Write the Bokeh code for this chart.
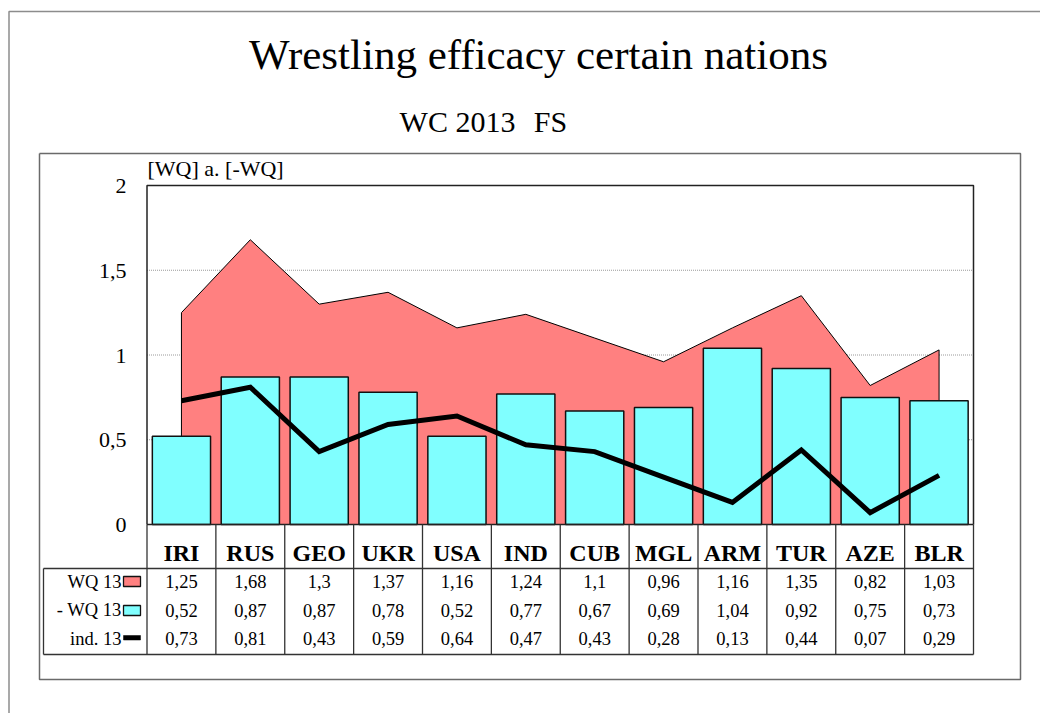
from bokeh.plotting import figure
from bokeh.models import Range1d
from bokeh.core.properties import value
from bokeh.embed import file_html
from bokeh.resources import INLINE

# ---------------- data ----------------
categories = ["IRI", "RUS", "GEO", "UKR", "USA", "IND", "CUB", "MGL", "ARM", "TUR", "AZE", "BLR"]
wq = [1.25, 1.68, 1.3, 1.37, 1.16, 1.24, 1.1, 0.96, 1.16, 1.35, 0.82, 1.03]
neg_wq = [0.52, 0.87, 0.87, 0.78, 0.52, 0.77, 0.67, 0.69, 1.04, 0.92, 0.75, 0.73]
ind = [0.73, 0.81, 0.43, 0.59, 0.64, 0.47, 0.43, 0.28, 0.13, 0.44, 0.07, 0.29]
series_labels = ["WQ 13", "- WQ 13", "ind. 13"]
y_ticks = [0, 0.5, 1, 1.5, 2]
grid_values = [0.5, 1, 1.5]
title_text = "Wrestling efficacy certain nations"
subtitle_parts = ["WC 2013", "FS"]
y_title_text = "[WQ] a. [-WQ]"

# ---------------- layout (image pixel coordinates) ----------------
W, H = 1040, 713
IMG_L, IMG_T = 0, 0
IMG_R, IMG_B = IMG_L + W, IMG_T + H
plot_left, plot_right = 146.5, 973.0
zero_y, px_per_unit = 524.0, 169.5
n = len(categories)
col_w = (plot_right - plot_left) / n
c0 = plot_left + col_w / 2

FONT = value("Liberation Serif")
RED = "#FF8080"
CYAN = "#80FFFF"


def fmt(v):
    s = ("%g" % v)
    return s.replace(".", ",")


p = figure(width=W, height=H,
           x_range=Range1d((IMG_L - c0) / col_w, (IMG_R - c0) / col_w),
           y_range=Range1d(-(IMG_B - zero_y) / px_per_unit, (zero_y - IMG_T) / px_per_unit),
           output_backend="svg", toolbar_location=None, min_border=0,
           x_axis_location=None, y_axis_location=None, outline_line_color=None,
           background_fill_color="white", border_fill_color="white")
p.xgrid.visible = False
p.ygrid.visible = False
p.extra_x_ranges = {"px": Range1d(IMG_L, IMG_R)}
p.extra_y_ranges = {"px": Range1d(IMG_B, IMG_T)}

# outer chart border
p.line(x=[8.5, 8.5, IMG_R], y=[IMG_B, 11, 11], x_range_name="px", y_range_name="px",
       line_color="#8c8c8c", line_width=1.5)
# inner box
p.line(x=[39, 1020, 1020, 39, 39], y=[153, 153, 679, 679, 153], x_range_name="px", y_range_name="px",
       line_color="#6a6a6a", line_width=1.5)

# gridlines
p.segment(x0=[plot_left] * len(grid_values), x1=[plot_right] * len(grid_values),
          y0=grid_values, y1=grid_values, x_range_name="px",
          line_color="#9a9a9a", line_width=1, line_dash="1 1")

xs = list(range(n))
# area series
p.patch(x=xs + [xs[-1], xs[0]], y=wq + [0, 0], fill_color=RED, line_color="black", line_width=1)
# bars
p.vbar(x=xs, top=neg_wq, bottom=0, width=0.845, fill_color=CYAN, line_color="#111111", line_width=1.5)
# line
p.line(x=xs, y=ind, line_color="black", line_width=5, line_join="miter")

# plot frame
p.line(x=[plot_left, plot_left, plot_right, plot_right], y=[0, 2, 2, 0], x_range_name="px",
       line_color="#222222", line_width=1.5)
p.line(x=[plot_left, plot_right], y=[0, 0], x_range_name="px", line_color="#222222", line_width=1.5)

# data table lines
bounds = [i - 0.5 for i in range(n + 1)]
p.segment(x0=bounds, x1=bounds, y0=[zero_y] * len(bounds), y1=[654] * len(bounds),
          y_range_name="px", line_color="#333333", line_width=1.3)
p.segment(x0=[43, 43, 43], x1=[plot_right, plot_right, 43], y0=[568, 654, 568], y1=[568, 654, 654],
          x_range_name="px", y_range_name="px", line_color="#333333", line_width=1.3)

# category header
p.text(x=xs, y=[561] * n, text=categories, y_range_name="px", text_font=FONT,
       text_font_size="24px", text_font_style="bold", text_align="center",
       text_baseline="alphabetic", y_offset=-9, text_color="black")

# table values
row_base = [588, 616.5, 645]
for vals, yb in zip([wq, neg_wq, ind], row_base):
    p.text(x=xs, y=[yb] * n, text=[fmt(v) for v in vals], y_range_name="px", text_font=FONT,
           text_font_size="18.5px", text_align="center", text_baseline="alphabetic",
           y_offset=-7, text_color="black")

# legend labels and keys
p.text(x=[121] * 3, y=row_base, text=series_labels, x_range_name="px", y_range_name="px",
       text_font=FONT, text_font_size="18.5px", text_align="right", text_baseline="alphabetic",
       y_offset=-7, text_color="black")
p.quad(left=[123, 123], right=[140, 140], top=[576, 605], bottom=[586, 615],
       fill_color=[RED, CYAN], line_color="#111111", line_width=1.3,
       x_range_name="px", y_range_name="px")
p.quad(left=[123], right=[140], top=[635], bottom=[639.5], fill_color="black", line_color="black",
       line_width=0.5, x_range_name="px", y_range_name="px")

# y tick labels
p.text(x=[126] * len(y_ticks), y=y_ticks, text=[fmt(v) for v in y_ticks], x_range_name="px",
       text_font=FONT, text_font_size="22px", text_align="right", text_baseline="alphabetic",
       y_offset=0.5, text_color="black")

# y axis title
p.text(x=[147], y=[176], text=[y_title_text], x_range_name="px", y_range_name="px",
       text_font=FONT, text_font_size="22px", text_align="left", text_baseline="alphabetic",
       y_offset=-8, text_color="black")

# titles
p.text(x=[538], y=[70], text=[title_text], x_range_name="px", y_range_name="px",
       text_font=FONT, text_font_size="43px", text_align="center", text_baseline="alphabetic",
       y_offset=-16, text_color="black")
p.text(x=[457, 550], y=[133, 133], text=subtitle_parts, x_range_name="px", y_range_name="px",
       text_font=FONT, text_font_size="30px", text_align="center", text_baseline="alphabetic",
       y_offset=-12, text_color="black")

open("out.html", "w").write(file_html(p, INLINE))
